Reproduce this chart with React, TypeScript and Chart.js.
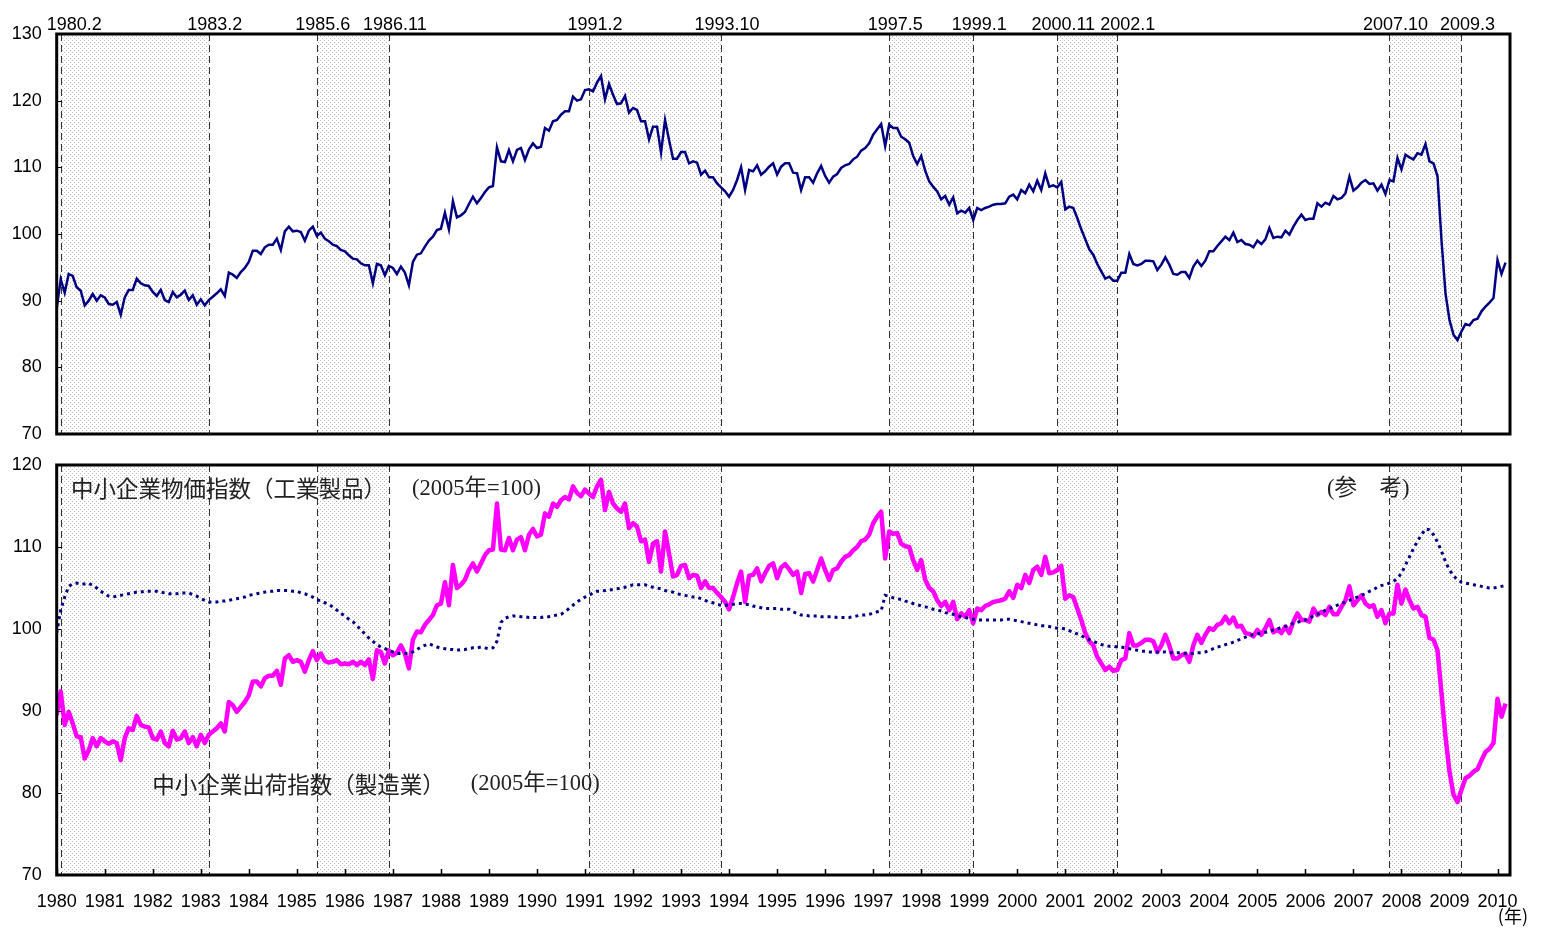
import React, { useEffect, useRef } from 'react';
import { Chart, registerables } from 'chart.js';

Chart.register(...registerables);

// ---------------- data ----------------
const START_YEAR = 1980;
const X_MAX = 2010.26;
const YEAR_TICKS = [
  1980, 1981, 1982, 1983, 1984, 1985, 1986, 1987, 1988, 1989, 1990, 1991, 1992, 1993, 1994, 1995,
  1996, 1997, 1998, 1999, 2000, 2001, 2002, 2003, 2004, 2005, 2006, 2007, 2008, 2009, 2010,
];
const TOP_Y_TICKS = [70, 80, 90, 100, 110, 120, 130];
const BOTTOM_Y_TICKS = [70, 80, 90, 100, 110, 120];

// upper panel: monthly index, Jan 1980 - Mar 2010
const TOP_INDEX = [
  88.8, 93.2, 91.2, 94.0, 93.7, 92.0, 91.5, 89.3, 90.0, 91.0, 90.0, 90.8,
  90.5, 89.5, 89.4, 89.8, 87.9, 90.5, 91.6, 91.6, 93.3, 92.6, 92.3, 92.2,
  91.3, 90.7, 91.6, 90.1, 89.8, 91.3, 90.5, 90.9, 91.5, 90.1, 90.8, 89.4,
  90.2, 89.3, 90.1, 90.6, 91.1, 91.7, 90.7, 94.2, 93.9, 93.4, 94.3, 94.9,
  95.8, 97.5, 97.5, 97.0, 98.0, 98.4, 98.4, 99.3, 97.6, 100.4, 101.1, 100.4,
  100.5, 100.3, 99.0, 100.5, 101.1, 99.7, 100.2, 99.3, 98.9, 98.4, 98.2, 97.6,
  97.4, 96.8, 96.3, 96.2, 95.6, 95.3, 95.3, 92.6, 95.5, 95.3, 93.8, 95.2,
  94.9, 94.0, 95.1, 94.2, 92.3, 95.8, 96.9, 97.1, 98.1, 99.0, 99.6, 100.6,
  100.8, 103.2, 100.7, 104.9, 102.5, 102.8, 103.3, 104.5, 105.6, 104.6, 105.4, 106.3,
  107.0, 107.2, 113.0, 110.9, 110.8, 112.6, 110.9, 112.6, 112.9, 111.1, 112.7, 113.6,
  112.9, 113.1, 115.9, 115.5, 116.9, 117.1, 117.9, 118.4, 118.4, 120.6, 120.0, 120.2,
  121.6, 121.7, 121.4, 122.7, 123.7, 120.2, 122.5, 120.9, 119.5, 119.6, 120.7, 118.2,
  118.9, 118.6, 116.9, 116.9, 114.2, 116.1, 116.1, 112.2, 117.1, 114.1, 111.3, 111.3,
  112.3, 112.3, 110.6, 110.9, 110.7, 108.9, 109.5, 108.5, 108.5, 107.6, 107.0, 106.4,
  105.6, 106.6, 108.1, 110.0, 106.6, 109.6, 109.4, 110.3, 108.9, 109.4, 110.1, 110.6,
  108.9, 110.1, 110.6, 110.6, 109.2, 109.1, 106.6, 108.5, 108.5, 107.7, 109.1, 110.2,
  108.7, 107.7, 108.6, 109.0, 109.9, 110.3, 110.5, 111.2, 111.6, 112.5, 112.9, 113.6,
  114.9, 115.7, 116.5, 113.2, 116.4, 115.9, 115.9, 114.6, 114.2, 113.7, 111.7, 110.5,
  111.7, 109.5, 107.9, 107.1, 106.4, 105.2, 105.7, 104.4, 105.5, 103.1, 103.5, 103.2,
  103.9, 102.1, 103.9, 103.6, 103.9, 104.1, 104.4, 104.5, 104.5, 104.6, 105.6, 105.9,
  105.2, 106.6, 106.1, 107.4, 106.4, 108.0, 106.6, 109.1, 107.1, 107.3, 107.0, 107.8,
  103.7, 104.1, 103.9, 102.4, 100.7, 99.2, 97.7, 96.9, 95.5, 94.4, 93.3, 93.6,
  93.0, 93.0, 94.2, 94.2, 97.0, 95.5, 95.3, 95.5, 96.0, 96.0, 95.9, 94.6,
  95.4, 96.5, 95.4, 94.0, 93.9, 94.3, 94.3, 93.4, 95.1, 96.0, 95.2, 96.0,
  97.4, 97.4, 98.2, 98.9, 99.6, 99.1, 100.2, 98.8, 99.1, 98.5, 98.4, 98.0,
  99.0, 98.5, 99.2, 100.9, 99.4, 99.6, 99.5, 100.5, 99.9, 101.1, 102.1, 102.9,
  102.1, 102.3, 102.3, 104.6, 104.1, 104.7, 104.4, 105.7, 105.2, 105.4, 106.1, 108.6,
  106.5, 107.0, 107.7, 108.1, 107.5, 107.6, 106.5, 107.4, 106.0, 108.1, 107.9, 111.4,
  109.7, 111.9, 111.5, 111.2, 112.1, 111.9, 113.5, 110.9, 110.6, 108.7, 99.1, 91.1,
  87.1, 84.9, 84.1, 85.4, 86.5, 86.3, 87.1, 87.3, 88.4, 89.1, 89.7, 90.4,
  96.1, 94.0, 95.7,
];

// lower panel, magenta: 中小企業出荷指数（製造業）
const SHIPMENTS = [
  89.5, 92.4, 88.3, 89.9, 88.5, 86.9, 86.8, 84.2, 85.2, 86.7, 85.7, 86.7,
  86.3, 86.0, 86.3, 86.1, 84.0, 86.7, 87.9, 87.7, 89.4, 88.3, 88.1, 88.0,
  86.7, 86.5, 87.5, 86.1, 85.7, 87.6, 86.5, 86.7, 87.5, 86.1, 86.8, 85.7,
  87.1, 86.1, 87.1, 87.5, 87.9, 88.5, 87.5, 91.1, 90.7, 89.9, 90.5, 91.1,
  91.9, 93.6, 93.6, 93.0, 94.0, 94.3, 94.3, 94.9, 93.2, 96.4, 96.8, 96.0,
  96.2, 96.0, 94.8, 96.2, 97.3, 96.2, 97.0, 96.1, 95.9, 96.0, 96.2, 95.7,
  95.8, 95.7, 96.0, 95.6, 96.0, 95.6, 96.3, 93.9, 97.4, 97.2, 95.8, 97.4,
  96.8, 97.1, 98.0, 97.0, 95.2, 98.7, 99.7, 99.6, 100.5, 101.1, 101.7, 102.9,
  103.1, 105.7, 102.9, 107.8, 105.0, 105.4, 106.0, 107.2, 108.0, 107.0, 108.0, 109.0,
  109.6, 109.7, 115.3, 109.7, 109.6, 111.1, 109.6, 110.9, 111.2, 109.6, 111.5, 112.2,
  111.3, 111.5, 114.1, 113.7, 115.3, 114.9, 115.7, 116.1, 115.8, 117.4, 116.6, 116.2,
  117.0, 116.5, 116.1, 117.4, 118.2, 114.5, 116.7, 115.3, 114.7, 114.3, 115.3, 112.3,
  112.9, 112.5, 110.7, 110.9, 108.2, 110.4, 110.7, 107.0, 111.9, 109.2, 106.4, 106.6,
  107.7, 107.8, 106.2, 106.6, 106.5, 105.0, 105.8, 105.0, 105.0, 104.4, 103.9, 103.3,
  102.4, 103.9, 105.6, 107.0, 103.3, 106.5, 106.6, 107.4, 105.8, 106.8, 107.7, 108.0,
  106.2, 107.5, 107.9, 107.3, 106.6, 107.0, 104.4, 106.7, 106.8, 105.8, 107.2, 108.6,
  107.2, 106.0, 107.2, 107.4, 108.2, 108.8, 109.0, 109.6, 110.0, 110.7, 110.9, 111.5,
  112.9, 113.7, 114.3, 108.6, 111.9, 111.6, 111.7, 110.4, 110.1, 110.0, 108.4, 107.2,
  108.4, 106.0, 105.0, 104.6, 103.5, 102.8, 103.3, 102.3, 103.3, 101.2, 101.9, 101.5,
  102.3, 100.7, 102.5, 102.3, 102.8, 103.0, 103.3, 103.4, 103.5, 103.7, 104.6, 103.8,
  105.4, 105.0, 106.6, 105.6, 107.2, 107.6, 106.6, 108.8, 106.8, 106.9, 107.2, 107.7,
  103.7, 104.1, 103.9, 102.5, 101.1, 99.5, 98.5, 98.0, 96.6, 95.8, 95.0, 95.4,
  94.9, 95.0, 96.2, 96.4, 99.5, 98.0, 98.0, 98.3, 98.7, 98.7, 98.5, 97.2,
  98.0, 99.3, 98.0, 96.4, 96.4, 96.8, 97.0, 96.0, 98.0, 99.3, 98.3, 99.3,
  100.1, 99.9, 100.5, 100.7, 101.5, 100.7, 101.4, 100.3, 100.4, 99.5, 99.4, 99.1,
  99.9, 99.3, 100.1, 101.1, 99.6, 99.9, 99.5, 100.3, 99.5, 100.9, 101.9, 101.1,
  101.1, 100.9, 102.5, 101.7, 102.1, 101.7, 102.7, 101.8, 101.8, 102.7, 103.5, 105.2,
  102.9, 103.5, 104.1, 103.1, 102.7, 102.9, 101.5, 102.3, 100.7, 101.9, 101.9, 105.4,
  103.1, 104.8, 103.5, 102.5, 102.7, 101.7, 101.5, 98.9, 98.7, 97.4, 92.2, 86.9,
  82.6, 79.8, 78.9, 80.4, 81.8, 82.1, 82.6, 82.9, 84.0, 85.0, 85.4, 86.1,
  91.5, 89.3, 90.9,
];

// lower panel, dotted navy: 中小企業物価指数（工業製品）
const PRICES = [
  99.5, 102.3, 103.9, 105.2, 105.5, 105.6, 105.5, 105.5, 105.6, 105.3, 105.0, 104.6,
  104.3, 104.0, 103.9, 104.0, 104.1, 104.2, 104.3, 104.4, 104.5, 104.5, 104.6, 104.6,
  104.6, 104.6, 104.5, 104.4, 104.3, 104.3, 104.3, 104.4, 104.4, 104.4, 104.2, 104.0,
  103.7, 103.5, 103.3, 103.3, 103.3, 103.4, 103.4, 103.5, 103.6, 103.7, 103.8, 103.9,
  104.1, 104.2, 104.3, 104.4, 104.5, 104.6, 104.6, 104.7, 104.7, 104.7, 104.7, 104.6,
  104.6, 104.4, 104.3, 104.1, 103.9, 103.6, 103.4, 103.2, 103.0, 102.7, 102.3, 101.9,
  101.6, 101.2, 100.9, 100.4, 99.9, 99.4, 98.9, 98.5, 98.1, 97.8, 97.6, 97.4,
  97.2, 97.0, 97.0, 97.0, 97.0, 97.2, 97.5, 97.8, 98.0, 98.2, 98.0, 97.8,
  97.7, 97.6, 97.5, 97.5, 97.4, 97.5, 97.5, 97.6, 97.7, 97.7, 97.8, 97.7,
  97.6, 97.7, 98.5, 100.8, 101.3, 101.5, 101.6, 101.6, 101.5, 101.5, 101.4, 101.4,
  101.4, 101.4, 101.5, 101.5, 101.6, 101.7, 101.8, 102.1, 102.5, 102.9, 103.3, 103.6,
  103.9, 104.1, 104.4, 104.6, 104.6, 104.7, 104.8, 104.8, 104.9, 105.0, 105.1, 105.2,
  105.4, 105.4, 105.4, 105.4, 105.2, 105.1, 105.0, 104.9, 104.7, 104.6, 104.5, 104.3,
  104.2, 104.1, 104.0, 103.9, 103.9, 103.7, 103.5, 103.3, 103.2, 103.0, 102.9, 102.9,
  102.9, 103.0, 103.1, 103.1, 103.0, 103.0, 102.8, 102.7, 102.6, 102.5, 102.5, 102.5,
  102.5, 102.4, 102.4, 102.4, 102.1, 101.9, 101.7, 101.7, 101.6, 101.6, 101.6, 101.5,
  101.5, 101.5, 101.5, 101.4, 101.4, 101.4, 101.4, 101.5, 101.6, 101.7, 101.7, 101.8,
  101.9, 102.1, 102.2, 104.1, 104.0, 103.8, 103.7, 103.6, 103.4, 103.3, 103.1, 103.0,
  102.8, 102.7, 102.6, 102.4, 102.3, 102.2, 102.0, 101.9, 101.8, 101.6, 101.5, 101.4,
  101.3, 101.2, 101.1, 101.1, 101.1, 101.1, 101.1, 101.1, 101.1, 101.2, 101.2, 101.1,
  101.0, 100.9, 100.8, 100.7, 100.6, 100.5, 100.4, 100.4, 100.3, 100.2, 100.1, 100.1,
  100.0, 99.8, 99.6, 99.4, 99.2, 98.9, 98.7, 98.5, 98.3, 98.1, 98.0, 97.9,
  97.9, 97.8, 97.8, 97.7, 97.6, 97.5, 97.4, 97.3, 97.3, 97.2, 97.2, 97.2,
  97.2, 97.2, 97.1, 97.1, 97.1, 97.1, 97.0, 97.0, 97.0, 97.1, 97.1, 97.2,
  97.4, 97.6, 97.8, 97.9, 98.1, 98.2, 98.4, 98.6, 98.8, 99.0, 99.2, 99.3,
  99.4, 99.5, 99.6, 99.7, 99.9, 100.0, 100.2, 100.3, 100.5, 100.7, 100.8, 101.0,
  101.1, 101.3, 101.6, 101.8, 102.0, 102.3, 102.5, 102.7, 102.9, 103.1, 103.3, 103.5,
  103.7, 103.9, 104.1, 104.3, 104.6, 104.8, 105.1, 105.3, 105.4, 105.6, 105.8, 106.2,
  106.8, 107.8, 108.8, 109.8, 110.7, 111.5, 112.2, 112.1, 111.5, 110.6, 109.5, 108.2,
  107.2, 106.5, 106.0, 105.7, 105.6, 105.5, 105.4, 105.3, 105.2, 105.1, 105.0, 105.0,
  105.1, 105.2, 105.3,
];

// business-cycle peaks and troughs [year, month]
const PEAKS = [[1980, 2], [1985, 6], [1991, 2], [1997, 5], [2000, 11], [2007, 10]];
const TROUGHS = [[1983, 2], [1986, 11], [1993, 10], [1999, 1], [2002, 1], [2009, 3]];

const PRICE_LABEL = '中小企業物価指数（工業製品）';
const SHIP_LABEL = '中小企業出荷指数（製造業）';
const BASE_LABEL = '(2005年=100)';
const REF_LABEL = '(参　考)';
const YEAR_UNIT = '(年)';

// ---------------- helpers ----------------
const toPoints = (arr: number[]) => arr.map((v, i) => ({ x: START_YEAR + i / 12, y: v }));
const startX = (p: number[]) => p[0] + (p[1] - 1) / 12;
const endX = (p: number[]) => p[0] + p[1] / 12;

const SANS = '"Liberation Sans", Arial, sans-serif';
const JP = '"Noto Sans CJK JP", sans-serif';
const SERIF_JP = '"Liberation Serif", "Noto Sans CJK JP", serif';

function makePattern(): CanvasPattern | string {
  const c = document.createElement('canvas');
  c.width = 4;
  c.height = 4;
  const g = c.getContext('2d');
  if (!g) return '#eee';
  g.fillStyle = '#ffffff';
  g.fillRect(0, 0, 4, 4);
  g.fillStyle = '#bcbcbc';
  g.fillRect(0, 0, 1, 1);
  g.fillRect(2, 2, 1, 1);
  return g.createPattern(c, 'repeat') || '#eee';
}

function panelPlugin(kind: 'top' | 'bottom') {
  let pattern: CanvasPattern | string | null = null;
  return {
    id: 'panel_' + kind,
    beforeDatasetsDraw(chart: any) {
      const { ctx, chartArea: a, scales } = chart;
      const x = scales.x;
      if (!pattern) pattern = makePattern();
      ctx.save();
      for (let k = 0; k < PEAKS.length; k++) {
        const x0 = x.getPixelForValue(startX(PEAKS[k]));
        const x1 = x.getPixelForValue(endX(TROUGHS[k]));
        ctx.fillStyle = pattern as any;
        ctx.fillRect(x0, a.top, x1 - x0, a.bottom - a.top);
      }
      ctx.strokeStyle = '#333';
      ctx.lineWidth = 1;
      ctx.setLineDash([7, 4]);
      for (let k = 0; k < PEAKS.length; k++) {
        for (const px of [x.getPixelForValue(startX(PEAKS[k])), x.getPixelForValue(endX(TROUGHS[k]))]) {
          const xx = Math.round(px) + 0.5;
          ctx.beginPath();
          ctx.moveTo(xx, a.top);
          ctx.lineTo(xx, a.bottom);
          ctx.stroke();
        }
      }
      ctx.restore();
    },
    afterDatasetsDraw(chart: any) {
      const { ctx, chartArea: a, scales } = chart;
      ctx.save();
      ctx.strokeStyle = '#000';
      ctx.lineWidth = 1;
      for (const t of scales.y.ticks) {
        const py = Math.round(scales.y.getPixelForValue(t.value)) + 0.5;
        ctx.beginPath();
        ctx.moveTo(a.left, py);
        ctx.lineTo(a.left + 5, py);
        ctx.stroke();
      }
      if (kind === 'bottom') {
        ctx.lineWidth = 1.5;
        for (const t of scales.x.ticks) {
          const px = Math.round(scales.x.getPixelForValue(t.value)) + 0.5;
          ctx.beginPath();
          ctx.moveTo(px, a.bottom);
          ctx.lineTo(px, a.bottom - 6);
          ctx.stroke();
        }
      }
      ctx.lineWidth = 3;
      ctx.strokeRect(a.left, a.top, a.right - a.left, a.bottom - a.top);
      ctx.restore();
    },
    afterDraw(chart: any) {
      const { ctx, chartArea: a, scales } = chart;
      const x = scales.x;
      const y = scales.y;
      ctx.save();
      if (kind === 'top') {
        ctx.font = '18px ' + SANS;
        ctx.fillStyle = '#000';
        ctx.textBaseline = 'alphabetic';
        ctx.textAlign = 'center';
        const marks: { v: number; t: string }[] = [];
        for (let k = 0; k < PEAKS.length; k++) {
          marks.push({ v: startX(PEAKS[k]), t: `${PEAKS[k][0]}.${PEAKS[k][1]}` });
          marks.push({ v: endX(TROUGHS[k]), t: `${TROUGHS[k][0]}.${TROUGHS[k][1]}` });
        }
        let prevRight = -Infinity;
        for (const m of marks) {
          const w = ctx.measureText(m.t).width;
          let cx = x.getPixelForValue(m.v) + 6;
          if (cx - w / 2 < a.left - 10) cx = a.left - 10 + w / 2;
          if (cx - w / 2 < prevRight + 5) cx = prevRight + 5 + w / 2;
          ctx.fillText(m.t, cx, 30);
          prevRight = cx + w / 2;
        }
      } else {
        ctx.fillStyle = '#222';
        ctx.textBaseline = 'middle';
        ctx.textAlign = 'left';
        const drawPair = (main: string, xv: number, yv: number) => {
          const px = x.getPixelForValue(xv);
          const py = y.getPixelForValue(yv);
          ctx.font = '22.5px ' + JP;
          ctx.fillText(main, px, py);
          const w = ctx.measureText(main).width;
          ctx.font = '22.5px ' + SERIF_JP;
          ctx.fillText(BASE_LABEL, px + w + 26, py);
        };
        drawPair(PRICE_LABEL, 1980.3, 117.1);
        drawPair(SHIP_LABEL, 1981.99, 81.1);
        ctx.font = '22.5px ' + SERIF_JP;
        ctx.fillText(REF_LABEL, x.getPixelForValue(2006.45), y.getPixelForValue(117.1));
        ctx.font = '18px ' + JP;
        ctx.fillStyle = '#000';
        ctx.textAlign = 'right';
        ctx.fillText(YEAR_UNIT, a.right + 18, a.bottom + 41);
      }
      ctx.restore();
    },
  };
}

const yAxis = (min: number, max: number, ticksArr: number[]) => ({
  type: 'linear' as const,
  min,
  max,
  afterBuildTicks: (s: any) => {
    s.ticks = ticksArr.map((v) => ({ value: v }));
  },
  afterFit: (s: any) => {
    s.width = 56.7;
    s.paddingTop = 0;
    s.paddingBottom = 0;
  },
  grid: { display: false, drawTicks: false },
  border: { display: false },
  ticks: {
    padding: 15,
    color: '#000',
    font: { family: SANS, size: 18 },
    callback: (v: any) => String(v),
  },
});

export default function App() {
  const topRef = useRef<HTMLCanvasElement>(null);
  const botRef = useRef<HTMLCanvasElement>(null);

  useEffect(() => {
    if (!topRef.current || !botRef.current) return;
    const top = new Chart(topRef.current, {
      type: 'line',
      data: {
        datasets: [
          {
            data: toPoints(TOP_INDEX),
            borderColor: '#000080',
            borderWidth: 2.5,
            pointRadius: 0,
            tension: 0,
            fill: false,
          },
        ],
      },
      options: {
        responsive: false,
        animation: false,
        devicePixelRatio: 1,
        layout: { padding: { left: 0, right: 31, top: 34, bottom: 11 } },
        plugins: { legend: { display: false }, tooltip: { enabled: false } },
        scales: {
          x: {
            type: 'linear',
            min: START_YEAR,
            max: X_MAX,
            display: false,
            afterBuildTicks: (s: any) => {
              s.ticks = YEAR_TICKS.map((v) => ({ value: v }));
            },
          },
          y: yAxis(70, 130, TOP_Y_TICKS),
        },
      } as any,
      plugins: [panelPlugin('top')],
    });

    const bottom = new Chart(botRef.current, {
      type: 'line',
      data: {
        datasets: [
          {
            data: toPoints(PRICES),
            borderColor: '#000080',
            borderWidth: 3,
            borderDash: [3, 4],
            pointRadius: 0,
            tension: 0,
            fill: false,
          },
          {
            data: toPoints(SHIPMENTS),
            borderColor: '#FF00FF',
            borderWidth: 4.5,
            pointRadius: 0,
            tension: 0,
            fill: false,
            borderJoinStyle: 'round',
          },
        ],
      },
      options: {
        responsive: false,
        animation: false,
        devicePixelRatio: 1,
        layout: { padding: { left: 0, right: 31, top: 20, bottom: 0 } },
        plugins: { legend: { display: false }, tooltip: { enabled: false } },
        scales: {
          x: {
            type: 'linear',
            min: START_YEAR,
            max: X_MAX,
            afterBuildTicks: (s: any) => {
              s.ticks = YEAR_TICKS.map((v) => ({ value: v }));
            },
            afterFit: (s: any) => {
              s.height = 56;
              s.paddingLeft = 0;
              s.paddingRight = 0;
            },
            grid: { display: false, drawTicks: false },
            border: { display: false },
            ticks: {
              padding: 16,
              autoSkip: false,
              maxRotation: 0,
              color: '#000',
              font: { family: SANS, size: 18 },
              callback: (v: any) => String(v),
            },
          },
          y: yAxis(70, 120, BOTTOM_Y_TICKS),
        },
      } as any,
      plugins: [panelPlugin('bottom')],
    });

    return () => {
      top.destroy();
      bottom.destroy();
    };
  }, []);

  return (
    <div style={{ position: 'absolute', left: 0, top: 0, width: 1541, height: 931, background: '#fff' }}>
      <canvas ref={topRef} width={1541} height={445} style={{ position: 'absolute', left: 0, top: 0 }} />
      <canvas ref={botRef} width={1541} height={486} style={{ position: 'absolute', left: 0, top: 445 }} />
    </div>
  );
}
